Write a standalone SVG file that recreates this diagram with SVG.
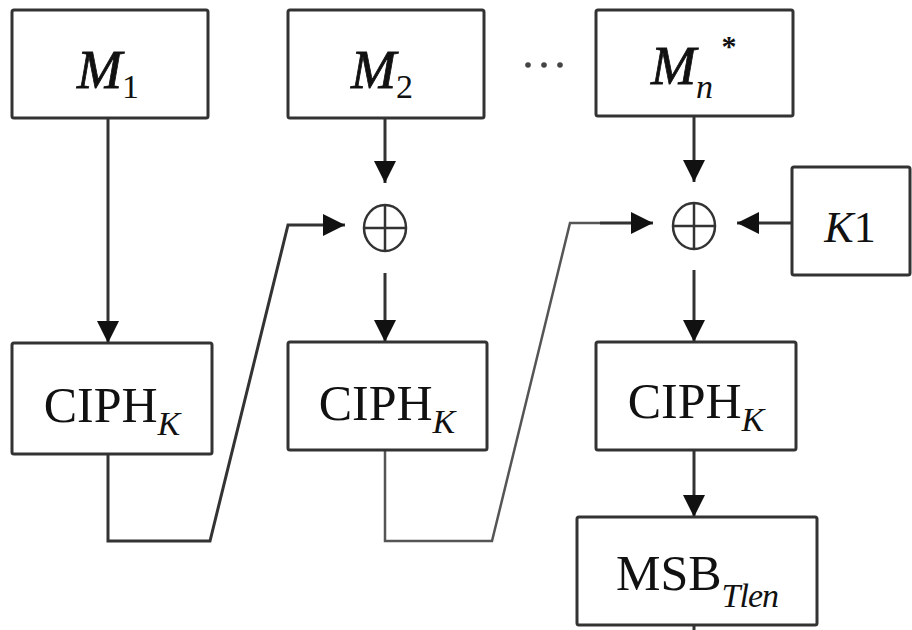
<svg xmlns="http://www.w3.org/2000/svg" width="912" height="630" viewBox="0 0 912 630">
<defs>
<style>
.box{fill:#fff;stroke:#333;stroke-width:3}
.ln{fill:none;stroke:#333;stroke-width:3}
.ln2{fill:none;stroke:#555;stroke-width:2.5}
.xr{fill:none;stroke:#333;stroke-width:2.5}
.t{font-family:"Liberation Serif","Times New Roman",serif;fill:#111}
.big{font-size:50px}
.m{font-size:54px;font-style:italic;stroke:#111;stroke-width:0.8}
.it{font-style:italic}
.sub{font-size:34px}
</style>
<marker id="ah" markerUnits="userSpaceOnUse" markerWidth="22" markerHeight="22" refX="22" refY="11" orient="auto">
<path d="M0,0 L22,11 L0,22 Z" fill="#111"/>
</marker>
</defs>
<rect width="912" height="630" fill="#fff"/>
<g id="connectors">
<line class="ln" x1="108" y1="118" x2="108" y2="343" marker-end="url(#ah)"/>
<line class="ln" x1="385" y1="118" x2="385" y2="183" marker-end="url(#ah)"/>
<line class="ln" x1="385" y1="273" x2="385" y2="342" marker-end="url(#ah)"/>
<path class="ln" d="M108,454 L108,541 L210,541 L288,225 L345,225" marker-end="url(#ah)"/>
<line class="ln" x1="694" y1="116" x2="694" y2="182" marker-end="url(#ah)"/>
<line class="ln" x1="792" y1="223" x2="737" y2="223" marker-end="url(#ah)"/>
<path class="ln2" d="M385,450 L385,541 L492,541 L570,223 L600,223"/>
<line class="ln" x1="600" y1="223" x2="653" y2="223" marker-end="url(#ah)"/>
<line class="ln" x1="694" y1="270" x2="694" y2="342" marker-end="url(#ah)"/>
<line class="ln" x1="694" y1="450" x2="694" y2="517" marker-end="url(#ah)"/>
<line class="ln" x1="694" y1="625" x2="694" y2="630"/>
</g>
<g id="m1">
<rect class="box" x="12" y="10" width="196" height="108" rx="2"/>
<text class="t" x="108" y="88" text-anchor="middle"><tspan class="m">M</tspan><tspan class="sub" dy="10">1</tspan></text>
</g>
<g id="m2">
<rect class="box" x="288" y="10" width="196" height="108" rx="2"/>
<text class="t" x="382" y="88" text-anchor="middle"><tspan class="m">M</tspan><tspan class="sub" dy="10">2</tspan></text>
</g>
<g id="dots">
<circle cx="528" cy="65" r="2.8" fill="#444"/>
<circle cx="544" cy="65" r="2.8" fill="#444"/>
<circle cx="560" cy="65" r="2.8" fill="#444"/>
</g>
<g id="mn">
<rect class="box" x="596" y="10" width="197" height="106" rx="2"/>
<text class="t" x="682" y="84" text-anchor="middle"><tspan class="m">M</tspan><tspan class="sub it" dy="14">n</tspan></text>
<text class="t" x="729" y="56" font-size="30" font-weight="bold" text-anchor="middle">*</text>
</g>
<g id="k1">
<rect class="box" x="792" y="167" width="118" height="108" rx="2"/>
<text class="t" x="850" y="242" font-size="44" text-anchor="middle"><tspan class="it">K</tspan>1</text>
</g>
<g id="xor1">
<ellipse class="xr" cx="385" cy="228" rx="21" ry="23"/>
<line class="xr" x1="364" y1="228" x2="406" y2="228" stroke-width="2"/>
<line class="xr" x1="385" y1="205" x2="385" y2="251" stroke-width="2"/>
</g>
<g id="xor2">
<ellipse class="xr" cx="694" cy="226" rx="21" ry="23"/>
<line class="xr" x1="673" y1="226" x2="715" y2="226" stroke-width="2"/>
<line class="xr" x1="694" y1="203" x2="694" y2="249" stroke-width="2"/>
</g>
<g id="ciph1">
<rect class="box" x="12" y="343" width="200" height="111" rx="2"/>
<text class="t big" x="112" y="422" text-anchor="middle">CIPH<tspan class="sub it" font-size="36" dy="13">K</tspan></text>
</g>
<g id="ciph2">
<rect class="box" x="288" y="342" width="199" height="108" rx="2"/>
<text class="t big" x="387" y="420" text-anchor="middle">CIPH<tspan class="sub it" font-size="36" dy="13">K</tspan></text>
</g>
<g id="ciph3">
<rect class="box" x="596" y="342" width="200" height="108" rx="2"/>
<text class="t big" x="696" y="418" text-anchor="middle">CIPH<tspan class="sub it" font-size="36" dy="13">K</tspan></text>
</g>
<g id="msb">
<rect class="box" x="577" y="517" width="240" height="108" rx="2"/>
<text class="t big" x="697" y="590" text-anchor="middle">MSB<tspan class="sub it" dy="17" letter-spacing="-1">Tlen</tspan></text>
</g>
</svg>
